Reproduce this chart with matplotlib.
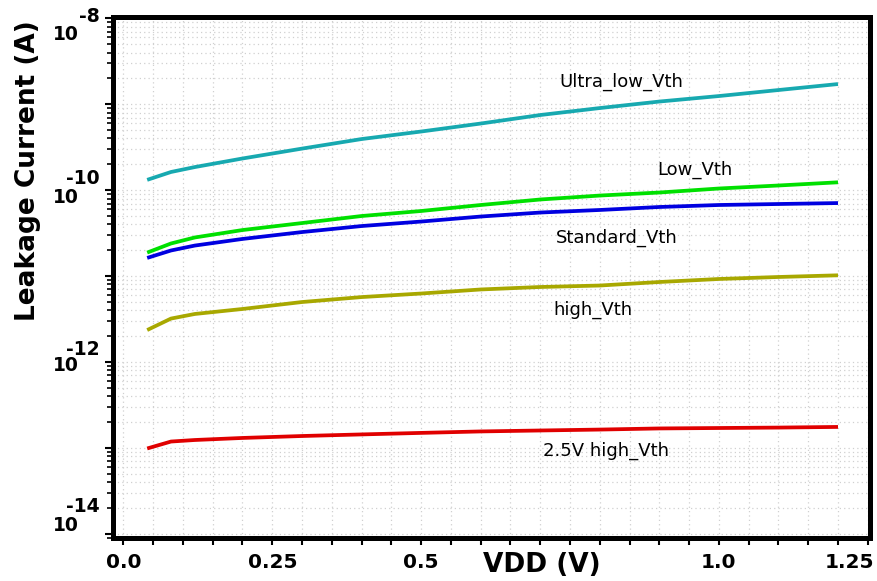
import numpy as np
import matplotlib
matplotlib.use("Agg")
import matplotlib.pyplot as plt
from matplotlib.ticker import FixedLocator, FixedFormatter, LogLocator, NullFormatter
from matplotlib.transforms import ScaledTranslation, blended_transform_factory

# supply voltage sweep (V)
vdd = [0.04, 0.08, 0.12, 0.2, 0.3, 0.4, 0.5, 0.6, 0.7, 0.8, 0.9, 1.0, 1.1, 1.2]

# leakage current (A) for each threshold flavour
ultra_low_vth = [1.32e-10, 1.63e-10, 1.86e-10, 2.34e-10, 3.05e-10, 3.94e-10, 4.82e-10,
                 5.97e-10, 7.50e-10, 9.04e-10, 1.076e-9, 1.247e-9, 1.465e-9, 1.72e-9]
low_vth = [1.88e-11, 2.40e-11, 2.82e-11, 3.44e-11, 4.15e-11, 5.01e-11, 5.73e-11,
           6.73e-11, 7.80e-11, 8.67e-11, 9.40e-11, 1.047e-10, 1.135e-10, 1.236e-10]
standard_vth = [1.63e-11, 1.99e-11, 2.27e-11, 2.71e-11, 3.26e-11, 3.83e-11, 4.32e-11,
                4.94e-11, 5.50e-11, 5.89e-11, 6.38e-11, 6.73e-11, 6.91e-11, 7.09e-11]
high_vth = [2.36e-12, 3.21e-12, 3.63e-12, 4.15e-12, 5.00e-12, 5.71e-12, 6.28e-12,
            7.00e-12, 7.48e-12, 7.78e-12, 8.55e-12, 9.27e-12, 9.78e-12, 1.023e-11]
high_vth_25 = [9.88e-14, 1.19e-13, 1.24e-13, 1.31e-13, 1.38e-13, 1.44e-13, 1.50e-13,
               1.56e-13, 1.60e-13, 1.64e-13, 1.69e-13, 1.71e-13, 1.73e-13, 1.76e-13]

series = [
    (ultra_low_vth, "#17a9b0", "Ultra_low_Vth", 0.836, 1.82e-9),
    (low_vth, "#00e000", "Low_Vth", 0.960, 1.72e-10),
    (standard_vth, "#0000e0", "Standard_Vth", 0.829, 2.78e-11),
    (high_vth, "#a8a800", "high_Vth", 0.789, 4.04e-12),
    (high_vth_25, "#e00000", "2.5V high_Vth", 0.811, 9.25e-14),
]

x_ticks = [round(0.05 * i, 2) for i in range(26)]
x_labels = {0.0: "0.0", 0.25: "0.25", 0.5: "0.5", 1.0: "1.0", 1.25: "1.25"}
y_decades = [-8, -10, -12, -14]

fig = plt.figure(figsize=(8.77, 5.81), dpi=100)
ax = fig.add_axes([0.1294, 0.0740, 0.8626, 0.8959])

for vals, col, name, lx, ly in series:
    ax.plot(vdd, vals, color=col, lw=2.7, solid_capstyle="butt")
    ax.text(lx, ly, name, ha="center", va="center", fontsize=13,
            family="DejaVu Sans", color="black")

ax.set_yscale("log")
ax.set_xlim(-0.0166, 1.2537)
ax.set_ylim(10 ** -14.047, 10 ** -7.99)

ax.xaxis.set_major_locator(FixedLocator(x_ticks))
ax.xaxis.set_major_formatter(FixedFormatter([x_labels.get(t, "") for t in x_ticks]))
ax.yaxis.set_major_locator(LogLocator(base=10, numticks=20))
ax.yaxis.set_minor_locator(LogLocator(base=10, subs=np.arange(2, 10), numticks=20))
ax.yaxis.set_major_formatter(NullFormatter())
ax.yaxis.set_minor_formatter(NullFormatter())

ax.tick_params(axis="x", which="major", direction="out", length=5, width=1.5,
               pad=6, labelsize=14.5)
ax.tick_params(axis="y", which="major", direction="out", length=6, width=1.5)
ax.tick_params(axis="y", which="minor", direction="out", length=4, width=1.2)
for lab in ax.get_xticklabels():
    lab.set_fontweight("bold")
    lab.set_family("DejaVu Sans")
last = ax.get_xticklabels()[-1]
last.set_horizontalalignment("right")
last.set_transform(last.get_transform() + ScaledTranslation(6 / 100, 0, fig.dpi_scale_trans))

ax.grid(True, which="both", axis="y", color="#d0d0d0", ls=(0, (1, 2.5)), lw=0.9)
ax.grid(True, which="major", axis="x", color="#d0d0d0", ls=(0, (1, 2.5)), lw=0.9)

for sp in ax.spines.values():
    sp.set_linewidth(3.6)
    sp.set_color("black")

# decade labels on the left, exponent sits above and to the right of the base
trans = blended_transform_factory(fig.transFigure, ax.transData)
base_dy = {-8: -16, -10: -7, -12: -3, -14: 8}
exp_dy = {-8: 2, -10: 12, -12: 13, -14: 27}
for d in y_decades:
    ax.annotate("10", xy=(66 / 877, 10.0 ** d), xycoords=trans,
                xytext=(0, base_dy[d] * 0.72), textcoords="offset points",
                ha="center", va="center", fontsize=13.5, fontweight="bold",
                family="DejaVu Sans", annotation_clip=False)
    ax.annotate(str(d), xy=(100 / 877, 10.0 ** d), xycoords=trans,
                xytext=(0, exp_dy[d] * 0.72), textcoords="offset points",
                ha="right", va="center", fontsize=13.5, fontweight="bold",
                family="DejaVu Sans", annotation_clip=False)

fig.text(28 / 877, 1 - 171 / 581, "Leakage Current (A)", rotation=90,
         ha="center", va="center", fontsize=19, fontweight="bold", family="DejaVu Sans")
fig.text(541.5 / 877, 1 - 565 / 581, "VDD (V)", ha="center", va="center",
         fontsize=19, fontweight="bold", family="DejaVu Sans")

fig.savefig("out.png", dpi=100)
